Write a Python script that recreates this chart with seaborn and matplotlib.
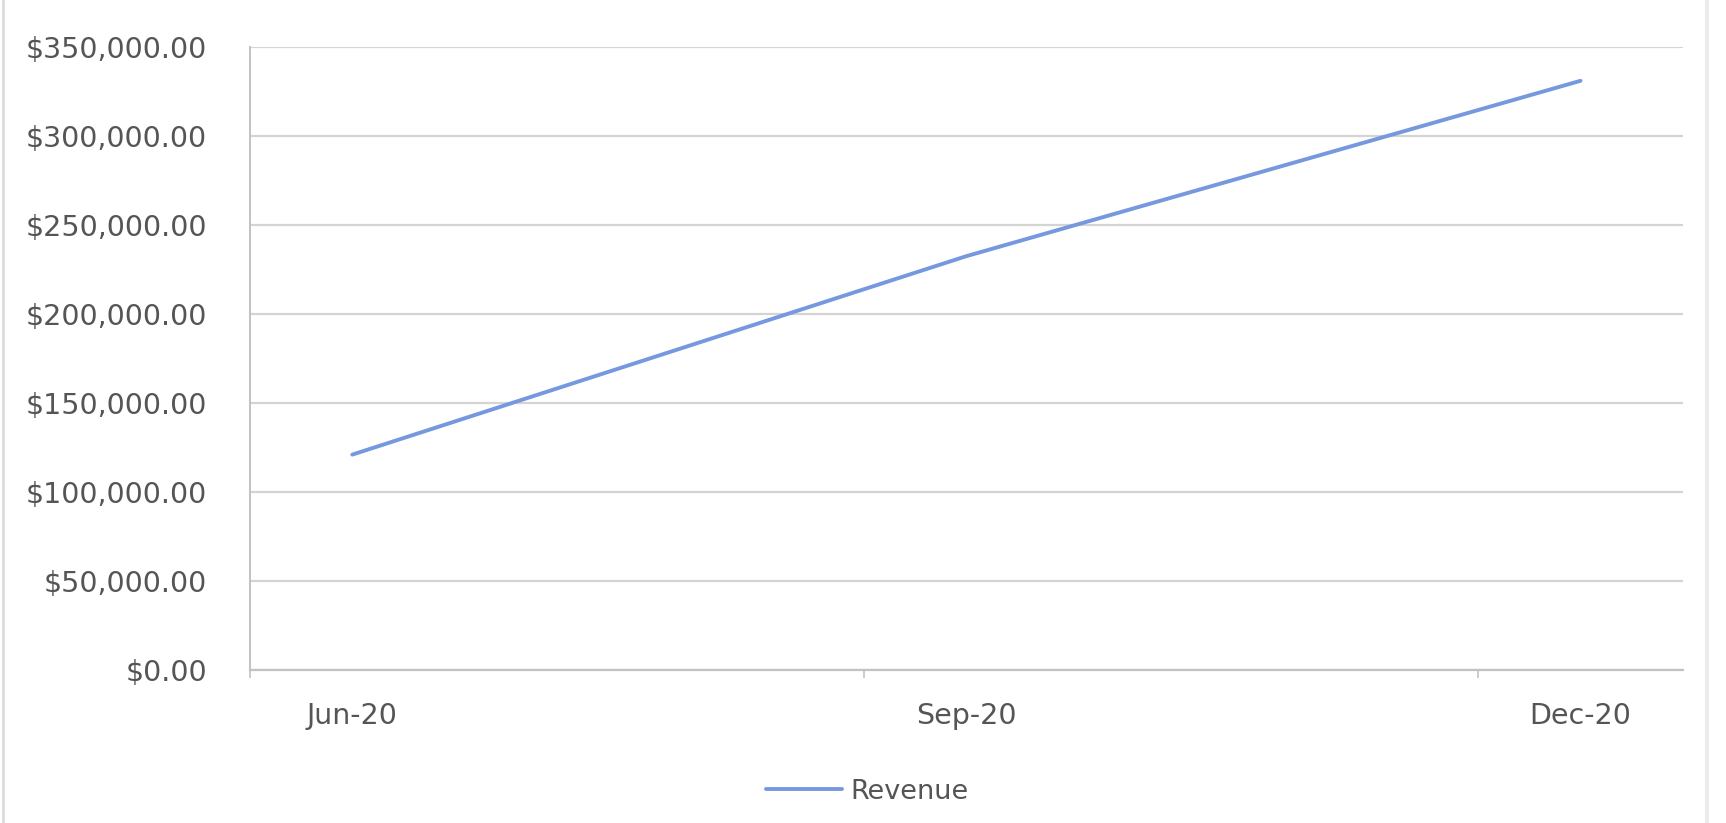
import matplotlib
matplotlib.use("Agg")
import matplotlib.pyplot as plt
import pandas as pd
import seaborn as sns
from matplotlib.lines import Line2D
from matplotlib.ticker import FixedLocator, FuncFormatter

# Quarterly revenue
months = ["2020-06", "2020-09", "2020-12"]
month_labels = ["Jun-20", "Sep-20", "Dec-20"]
revenue = [121000, 232500, 331000]
series_name = "Revenue"
y_ticks = [0, 50000, 100000, 150000, 200000, 250000, 300000, 350000]

# Monthly position of each point on a date-style axis (Jun..Dec)
dates = pd.to_datetime(months)
start = dates.min()
month_pos = (dates.year - start.year) * 12 + (dates.month - start.month)
df = pd.DataFrame({"month": month_pos, "value": revenue, "series": series_name})

line_color = "#7598de"
text_color = "#555555"
grid_color = "#d4d4d4"
axis_color = "#c2c2c2"

sns.set_theme(style="white")
plt.rcParams["font.family"] = ["DejaVu Sans"]

fig = plt.figure(figsize=(17.26, 8.23), dpi=100)
fig.patch.set_facecolor("white")
ax = fig.add_axes([0.1448, 0.1859, 0.975 - 0.1448, 0.9429 - 0.1859])

sns.lineplot(data=df, x="month", y="value", hue="series",
             palette=[line_color], linewidth=2.8, ax=ax, legend=True)

ax.set_xlim(-0.5, 6.5)
ax.set_ylim(0, 350000)
ax.set_xlabel("")
ax.set_ylabel("")

ax.yaxis.set_major_locator(FixedLocator(y_ticks))
ax.yaxis.set_major_formatter(FuncFormatter(lambda v, p: f"${v:,.2f}"))
ax.grid(axis="y", color=grid_color, linewidth=1.6)
ax.grid(axis="x", visible=False)
ax.set_axisbelow(True)

# Major ticks sit between months; labels ride on minor ticks at each point
last = int(month_pos.max())
ax.set_xticks([p - 0.5 for p in range(0, last + 1, 3)])
ax.set_xticklabels([])
ax.set_xticks(list(month_pos), minor=True)
ax.set_xticklabels(month_labels, minor=True)
ax.tick_params(axis="x", which="major", length=6, width=1.2, color=axis_color,
               direction="out", bottom=True)
ax.tick_params(axis="x", which="minor", length=0, pad=23, labelsize=20.5,
               labelcolor=text_color, bottom=True)
ax.tick_params(axis="y", length=0, pad=31, labelsize=20.5, labelcolor=text_color)

for side in ("top", "right"):
    ax.spines[side].set_visible(False)
ax.spines["left"].set_color(axis_color)
ax.spines["left"].set_linewidth(1.4)
ax.spines["bottom"].set_color(axis_color)
ax.spines["bottom"].set_linewidth(1.6)

handles, labels = ax.get_legend_handles_labels()
if ax.get_legend() is not None:
    ax.get_legend().remove()
fig.legend(handles, labels, loc="center", bbox_to_anchor=(0.5025, 0.038),
           frameon=False, fontsize=19.5, handlelength=2.8, handletextpad=0.3,
           labelcolor=text_color)

# Chart area border edges
fig.add_artist(Line2D([3 / 1726, 3 / 1726], [0, 1], transform=fig.transFigure,
                      color="#d9d9d9", linewidth=1.8))
fig.add_artist(Line2D([1707 / 1726, 1707 / 1726], [0, 1], transform=fig.transFigure,
                      color="#ececec", linewidth=3))

fig.savefig("out.png", dpi=100, facecolor="white")
